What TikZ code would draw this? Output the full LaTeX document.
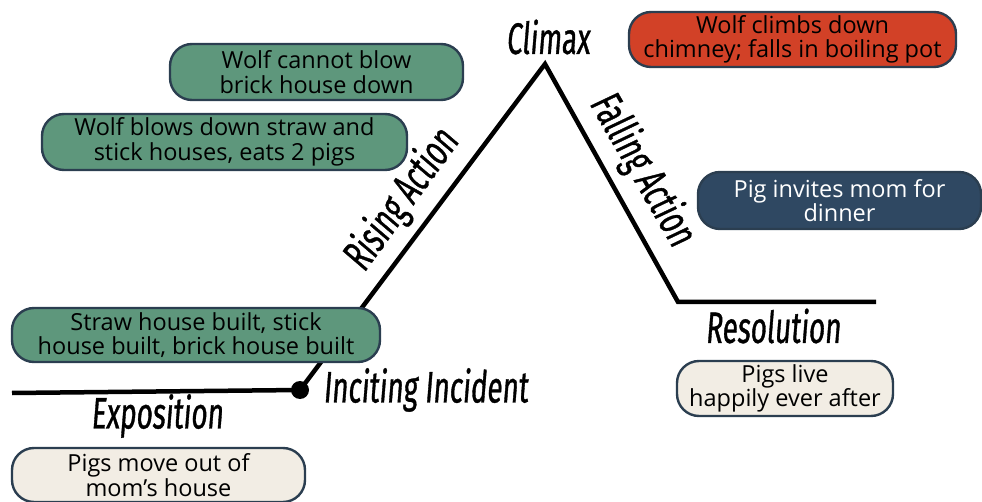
\documentclass[tikz,border=0pt]{standalone}
\usepackage{fontspec}
\setmainfont{Open Sans}
\newfontfamily\labelfont[FakeStretch=0.63, FakeSlant=0.08, FakeBold=0.8]{Fira Sans}
\definecolor{boxgreen}{HTML}{5E977C}
\definecolor{boxcream}{HTML}{F2EDE4}
\definecolor{boxred}{HTML}{D24127}
\definecolor{boxblue}{HTML}{2F4862}
\definecolor{boxedge}{HTML}{2B3E50}
\tikzset{
  evbox/.style={draw=boxedge, line width=2.4pt, rounded corners=22pt, align=center,
    inner sep=0pt, font=\fontsize{23.5}{24.5}\selectfont, text=black},
  greenbox/.style={evbox, fill=boxgreen},
  creambox/.style={evbox, fill=boxcream},
  redbox/.style={evbox, fill=boxred},
  bluebox/.style={evbox, fill=boxblue, text=white},
  plotline/.style={line width=4.5pt, black},
  stagelabel/.style={font=\labelfont\fontsize{44}{44}\selectfont, inner sep=0pt}
}
\begin{document}
\begin{tikzpicture}[x=1pt,y=1pt]
\useasboundingbox (0,0) rectangle (982,-502);
% plot line
\coordinate (start) at (12,-393);
\node[circle, fill=black, minimum size=18pt, inner sep=0pt] (dot) at (300,-390) {};
\coordinate (peak) at (545,-64);
\coordinate (low) at (678,-302);
\coordinate (end) at (876,-302);
\draw[plotline] (start) -- (dot.center) -- (peak) -- (low) -- (end);
% boxes
\node[greenbox, minimum width=293pt, minimum height=56pt] (b1) at (316.5,-72) {Wolf cannot blow\\brick house down};
\node[greenbox, minimum width=365pt, minimum height=56pt] (b2) at (224.5,-142) {Wolf blows down straw and\\stick houses, eats 2 pigs};
\node[greenbox, minimum width=368pt, minimum height=54pt] (b3) at (196,-335) {Straw house built, stick\\house built, brick house built};
\node[creambox, minimum width=293pt, minimum height=54pt] (b4) at (158.5,-475) {Pigs move out of\\mom’s house};
\node[redbox, minimum width=327pt, minimum height=55pt] (b5) at (792.5,-39.5) {Wolf climbs down\\chimney; falls in boiling pot};
\node[bluebox, minimum width=283pt, minimum height=57pt] (b6) at (839.5,-200.5) {Pig invites mom for\\dinner};
\node[creambox, minimum width=216pt, minimum height=55pt] (b7) at (785,-388.5) {Pigs live\\happily ever after};
% stage labels
\node[stagelabel] (climax) at (548,-37) {Climax};
\node[stagelabel, rotate=54] (rising) at (402,-200) {Rising Action};
\node[stagelabel, rotate=-60] (falling) at (642,-170) {Falling Action};
\node[stagelabel] (resol) at (773,-326) {Resolution};
\node[stagelabel, anchor=west] (incit) at (323,-390) {Inciting Incident};
\node[stagelabel] (expo) at (157,-416) {Exposition};
\end{tikzpicture}
\end{document}
